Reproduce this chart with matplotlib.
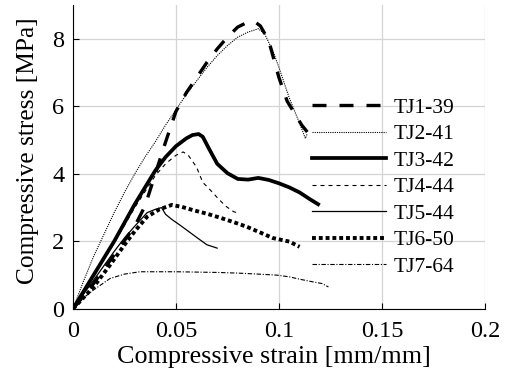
import numpy as np
import matplotlib
matplotlib.use('Agg')
import matplotlib.pyplot as plt

plt.rcParams['font.family'] = ['Liberation Serif', 'DejaVu Serif']

# strain [mm/mm] / stress [MPa]
tj1_x = [0, 0.01, 0.02, 0.03, 0.035, 0.04, 0.045, 0.05, 0.055, 0.06, 0.065, 0.07, 0.075,
         0.08, 0.085, 0.088, 0.091, 0.095, 0.1, 0.104, 0.108, 0.111, 0.114]
tj1_y = [0, 0.75, 1.6, 2.45, 3.05, 4.0, 4.95, 5.85, 6.4, 6.85, 7.3, 7.7, 8.05,
         8.35, 8.5, 8.52, 8.38, 7.95, 6.85, 6.15, 5.75, 5.45, 5.22]

tj2_x = [0, 0.005, 0.01, 0.015, 0.02, 0.025, 0.03, 0.035, 0.04, 0.045, 0.05, 0.055, 0.06,
         0.065, 0.07, 0.075, 0.08, 0.085, 0.09, 0.093, 0.097, 0.1, 0.105, 0.11, 0.1128, 0.1138]
tj2_y = [0, 0.8, 1.55, 2.2, 2.85, 3.45, 4.0, 4.5, 4.95, 5.45, 5.9, 6.35, 6.75,
         7.15, 7.5, 7.8, 8.05, 8.2, 8.3, 8.15, 7.65, 7.15, 6.25, 5.5, 5.05, 5.2]

tj3_x = [0, 0.01, 0.02, 0.03, 0.035, 0.04, 0.045, 0.05, 0.055, 0.058, 0.061, 0.063, 0.066,
         0.07, 0.075, 0.08, 0.085, 0.09, 0.095, 0.1, 0.105, 0.11, 0.115, 0.119]
tj3_y = [0, 1.0, 2.0, 3.1, 3.6, 4.1, 4.5, 4.82, 5.05, 5.15, 5.18, 5.1, 4.75,
         4.3, 4.02, 3.85, 3.83, 3.88, 3.82, 3.72, 3.6, 3.45, 3.25, 3.1]

tj4_x = [0, 0.01, 0.02, 0.03, 0.04, 0.045, 0.05, 0.0535, 0.056, 0.06, 0.063, 0.067,
         0.07, 0.074, 0.078, 0.081]
tj4_y = [0, 0.95, 1.95, 3.0, 3.95, 4.3, 4.55, 4.65, 4.55, 4.2, 3.75, 3.5,
         3.3, 3.05, 2.88, 2.82]

tj5_x = [0, 0.01, 0.02, 0.025, 0.03, 0.036, 0.04, 0.043, 0.045, 0.048, 0.052, 0.056,
         0.06, 0.065, 0.07]
tj5_y = [0, 0.85, 1.7, 2.1, 2.45, 2.85, 2.95, 3.0, 2.8, 2.65, 2.48, 2.3,
         2.12, 1.9, 1.8]

tj6_x = [0, 0.01, 0.018, 0.026, 0.03, 0.036, 0.042, 0.048, 0.053, 0.058, 0.065, 0.0715,
         0.078, 0.0845, 0.091, 0.097, 0.1053, 0.108, 0.11]
tj6_y = [0, 0.65, 1.3, 1.98, 2.3, 2.73, 2.95, 3.08, 3.02, 2.93, 2.82, 2.7,
         2.57, 2.43, 2.26, 2.1, 1.99, 1.9, 1.84]

tj7_x = [0, 0.005, 0.01, 0.018, 0.025, 0.0325, 0.04, 0.0505, 0.06, 0.07, 0.08, 0.09,
         0.099, 0.105, 0.11, 0.1165, 0.121, 0.124]
tj7_y = [0, 0.32, 0.56, 0.9, 1.03, 1.1, 1.1, 1.1, 1.09, 1.08, 1.06, 1.03,
         1.0, 0.95, 0.88, 0.8, 0.75, 0.65]

labels = ['TJ1-39', 'TJ2-41', 'TJ3-42', 'TJ4-44', 'TJ5-44', 'TJ6-50', 'TJ7-64']
x_ticks = [0, 0.05, 0.1, 0.15, 0.2]
x_tick_labels = ['0', '0.05', '0.1', '0.15', '0.2']
y_ticks = [0, 2, 4, 6, 8]

fig = plt.figure(figsize=(5.1, 3.91), dpi=100)
ax = fig.add_axes([0.143, 0.21, 0.808, 0.777])

ax.plot(tj1_x, tj1_y, color='k', lw=2.4, dashes=(4.2, 3.9), label=labels[0])
ax.plot(tj2_x, tj2_y, color='k', lw=0.8, dashes=(1, 1), label=labels[1])
ax.plot(tj3_x, tj3_y, color='k', lw=2.7, label=labels[2])
ax.plot(tj4_x, tj4_y, color='k', lw=0.8, dashes=(3.6, 3.6), label=labels[3])
ax.plot(tj5_x, tj5_y, color='k', lw=0.9, label=labels[4])
ax.plot(tj6_x, tj6_y, color='k', lw=2.8, dashes=(1, 0.75), label=labels[5])
ax.plot(tj7_x, tj7_y, color='k', lw=0.8, dashes=(4, 1.5, 1, 1.5), label=labels[6])

ax.set_xlim(0, 0.2)
ax.set_ylim(0, 9)
ax.set_xticks(x_ticks)
ax.set_xticklabels(x_tick_labels)
ax.set_yticks(y_ticks)
ax.tick_params(direction='in', length=4, width=0.8, labelsize=17.5)
ax.tick_params(axis='x', pad=8.5)
ax.tick_params(axis='y', pad=6)
ax.grid(True, color='#d4d4d4', lw=0.9)
ax.set_axisbelow(True)
for s in ['top', 'right']:
    ax.spines[s].set_visible(False)

ax.set_xlabel('Compressive strain [mm/mm]', fontsize=18.8, labelpad=3)
ax.set_ylabel('Compressive stress [MPa]', fontsize=18.3, labelpad=9.5)
ax.xaxis.label.set_x(0.488)
ax.yaxis.label.set_y(0.522)

ax.legend(loc='upper left', bbox_to_anchor=(0.58, 0.695), frameon=False, fontsize=15.5,
          handlelength=3.45, handletextpad=0.35, labelspacing=0.3, borderpad=0,
          borderaxespad=0)

fig.savefig('out.png', dpi=100)
